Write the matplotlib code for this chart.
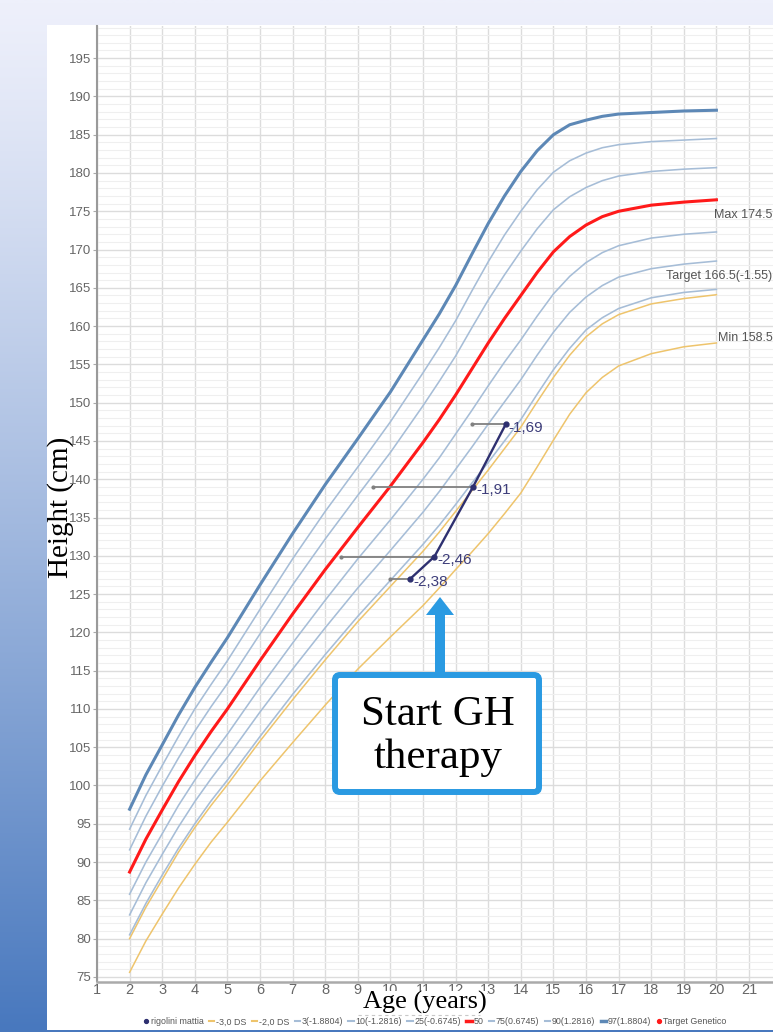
import numpy as np
import matplotlib
matplotlib.use('Agg')
import matplotlib.pyplot as plt
from matplotlib.patches import Rectangle, FancyBboxPatch, Polygon
from matplotlib.lines import Line2D

# ---------------- data ----------------
ages = [2, 2.5, 3, 3.5, 4, 4.5, 5, 6, 7, 8, 9, 10, 11, 11.5, 12, 12.5, 13, 13.5, 14, 14.5, 15, 15.5, 16, 16.5, 17, 18, 19, 20]
p97 = [96.9, 101.4, 105.3, 109.2, 112.8, 116.1, 119.3, 126.2, 132.9, 139.3, 145.3, 151.4, 158.2, 161.6, 165.3, 169.4, 173.4, 177.0, 180.2, 182.9, 185.0, 186.3, 186.9, 187.4, 187.7, 187.9, 188.1, 188.2]
p90 = [94.3, 98.7, 102.6, 106.4, 110.0, 113.2, 116.3, 123.0, 129.6, 135.8, 141.6, 147.5, 153.9, 157.2, 160.7, 164.6, 168.4, 171.9, 175.0, 177.8, 180.1, 181.6, 182.6, 183.3, 183.7, 184.1, 184.3, 184.5]
p75 = [91.6, 96.0, 99.9, 103.6, 107.1, 110.3, 113.3, 119.8, 126.2, 132.2, 137.9, 143.5, 149.6, 152.8, 156.1, 159.8, 163.4, 166.7, 169.8, 172.7, 175.2, 176.9, 178.1, 179.0, 179.6, 180.2, 180.5, 180.7]
p50 = [88.7, 93.0, 96.8, 100.5, 103.9, 107.05, 110.0, 116.3, 122.4, 128.2, 133.7, 139.1, 144.8, 147.8, 151.0, 154.4, 157.8, 161.0, 164.0, 167.0, 169.7, 171.7, 173.2, 174.3, 175.0, 175.8, 176.2, 176.5]
p25 = [85.8, 90.0, 93.7, 97.4, 100.7, 103.8, 106.7, 112.8, 118.6, 124.2, 129.6, 134.7, 140.0, 142.8, 145.9, 149.0, 152.2, 155.3, 158.2, 161.3, 164.2, 166.5, 168.3, 169.6, 170.5, 171.5, 172.0, 172.3]
p10 = [83.1, 87.3, 91.0, 94.6, 97.9, 100.9, 103.7, 109.6, 115.2, 120.6, 125.8, 130.7, 135.7, 138.4, 141.3, 144.2, 147.2, 150.1, 153.0, 156.2, 159.2, 161.8, 163.8, 165.3, 166.4, 167.5, 168.1, 168.5]
p3 = [80.5, 84.6, 88.3, 91.8, 95.0, 98.0, 100.7, 106.4, 111.9, 117.1, 122.1, 126.8, 131.5, 134.0, 136.7, 139.5, 142.2, 145.0, 147.8, 151.1, 154.3, 157.1, 159.5, 161.1, 162.3, 163.7, 164.4, 164.8]
sd_m2 = [80.0, 84.1, 87.7, 91.3, 94.5, 97.4, 100.1, 105.8, 111.2, 116.4, 121.4, 126.0, 130.6, 133.1, 135.8, 138.5, 141.2, 144.0, 146.8, 150.1, 153.3, 156.2, 158.6, 160.3, 161.5, 162.9, 163.6, 164.1]
sd_m3 = [75.6, 79.7, 83.2, 86.6, 89.7, 92.6, 95.2, 100.6, 105.6, 110.5, 115.2, 119.4, 123.5, 125.8, 128.2, 130.5, 132.9, 135.5, 138.2, 141.6, 145.1, 148.5, 151.3, 153.3, 154.8, 156.4, 157.3, 157.8]

patient_age = [10.61, 11.35, 12.54, 13.54]
patient_height = [127.0, 129.9, 139.05, 147.2]
bone_age = [9.99, 8.47, 9.47, 12.49]
sds_labels = ['-2,38', '-2,46', '-1,91', '-1,69']

right_labels = ['Max 174.5', 'Target 166.5(-1.55)', 'Min 158.5']
right_values = [174.5, 166.5, 158.5]

y_ticks = list(range(75, 200, 5))
x_ticks = list(range(1, 22))

legend_labels = ['rigolini mattia', '-3,0 DS', '-2,0 DS', '3(-1.8804)', '10(-1.2816)',
                 '25(-0.6745)', '50', '75(0.6745)', '90(1.2816)', '97(1.8804)', 'Target Genetico']

# ---------------- style ----------------
C_THIN = '#a6bdd7'
C_THICK = '#5d88b6'
C_RED = '#ff1a1a'
C_YEL = '#eec46c'
C_NAVY = '#2e3070'
C_ARROW = '#2a9ae2'
SANS = ['Liberation Sans', 'DejaVu Sans']
SERIF = ['Liberation Serif', 'DejaVu Serif']

W, H = 773, 1032
fig = plt.figure(figsize=(W / 100, H / 100), dpi=100)

# background gradient + white panel
bg = fig.add_axes([0, 0, 1, 1], zorder=0)
bg.set_xlim(0, W); bg.set_ylim(H, 0); bg.axis('off')
top = np.array([238, 240, 251]) / 255.0
bot = np.array([72, 120, 190]) / 255.0
t = (np.linspace(0, 1, 200) ** 1.15)[:, None]
img = (top[None, :] * (1 - t) + bot[None, :] * t)[:, None, :]
bg.imshow(img, extent=(0, W, H, 0), aspect='auto', interpolation='bilinear')
bg.add_patch(Rectangle((47, 25), W - 47, 1005, fc='white', ec='none'))

# main axes
px_per_year = 32.6
ax = fig.add_axes([97 / W, 1 - 981.5 / H, (W - 97) / W, (981.5 - 26) / H], zorder=1)
ax.set_xlim(1, 1 + (W - 97) / px_per_year)
ax.set_ylim(74.4, 199.2)
ax.set_facecolor('white')
ax.set_xticks(x_ticks)
ax.set_yticks(y_ticks)
ax.set_yticks(np.arange(75, 200, 1), minor=True)
ax.grid(which='major', axis='both', color='#dcdcdc', lw=1.0, zorder=0)
ax.grid(which='minor', axis='y', color='#efefef', lw=0.8, zorder=0)
ax.set_axisbelow(True)
for s in ['top', 'right']:
    ax.spines[s].set_visible(False)
ax.spines['left'].set_color('#9a9a9a'); ax.spines['left'].set_linewidth(1.5)
ax.spines['bottom'].set_color('#aaaaaa'); ax.spines['bottom'].set_linewidth(1.8)
ax.tick_params(axis='y', which='major', labelsize=9.5, labelcolor='#666666', color='#aaaaaa', length=3, pad=1)
ax.tick_params(axis='x', which='major', labelsize=10.5, labelcolor='#666666', length=0, pad=1)
ax.tick_params(which='minor', length=0)
for lab in ax.get_xticklabels() + ax.get_yticklabels():
    lab.set_family(SANS)

# reference curves
ax.plot(ages, sd_m3, color=C_YEL, lw=1.1, zorder=2)
ax.plot(ages, sd_m2, color=C_YEL, lw=1.1, zorder=2)
for arr in [p3, p10, p25, p75, p90]:
    ax.plot(ages, arr, color=C_THIN, lw=1.15, zorder=2)
ax.plot(ages, p50, color=C_RED, lw=2.2, zorder=3)
ax.plot(ages, p97, color=C_THICK, lw=2.2, zorder=3)

# bone-age lines
for a, b, h in zip(patient_age, bone_age, patient_height):
    ax.plot([b, a], [h, h], color='#808080', lw=1.3, zorder=4)
    ax.plot([b], [h], marker='o', ms=2, color='#808080', zorder=4)

# patient
ax.plot(patient_age, patient_height, color=C_NAVY, lw=1.7, marker='o', ms=3.5, zorder=5)
for a, h, lab in zip(patient_age, patient_height, sds_labels):
    ax.annotate(lab, (a, h), xytext=(2, -2.5), textcoords='offset points', fontsize=11,
                color='#3d3d7a', va='center', ha='left', family=SANS, zorder=6)

# right labels
for lab, v in zip(right_labels, right_values):
    ax.text(0.999, v, lab, transform=ax.get_yaxis_transform(), ha='right', va='center',
            fontsize=9, color='#555555', family=SANS, clip_on=False)

# overlay
ov = fig.add_axes([0, 0, 1, 1], zorder=2)
ov.set_xlim(0, W); ov.set_ylim(H, 0); ov.axis('off')
ov.patch.set_alpha(0)

ov.add_patch(Polygon([(435, 676), (435, 615), (426, 615), (440, 597), (454, 615), (445, 615), (445, 676)],
                     closed=True, fc=C_ARROW, ec='none'))
ov.add_patch(FancyBboxPatch((335, 675), 204, 117, boxstyle='round,pad=0,rounding_size=5',
                            lw=4.3, ec=C_ARROW, fc='white'))
ov.text(438, 725, 'Start GH', ha='center', va='baseline', fontsize=31, family=SERIF, color='black')
ov.text(438, 768, 'therapy', ha='center', va='baseline', fontsize=31, family=SERIF, color='black')

ov.text(425, 1009, 'Age (years)', ha='center', va='baseline', fontsize=19, family=SERIF, color='black',
        bbox=dict(fc='white', ec='none', pad=0.0))
ov.plot([358, 480], [1015, 1015], ls=(0, (3, 3)), color='#c8c8c8', lw=0.8)
ov.text(61, 507, 'Height (cm)', rotation=90, ha='center', va='center', fontsize=21, family=SERIF, color='black')

# legend
handles = [
    Line2D([], [], marker='o', ls='none', color=C_NAVY, ms=2.8),
    Line2D([], [], color=C_YEL, lw=1.5),
    Line2D([], [], color=C_YEL, lw=1.5),
    Line2D([], [], color=C_THIN, lw=1.5),
    Line2D([], [], color=C_THIN, lw=1.5),
    Line2D([], [], color=C_THIN, lw=1.5),
    Line2D([], [], color=C_RED, lw=2.5),
    Line2D([], [], color=C_THIN, lw=1.5),
    Line2D([], [], color=C_THIN, lw=1.5),
    Line2D([], [], color=C_THICK, lw=2.5),
    Line2D([], [], marker='o', ls='none', color=C_RED, ms=2.8),
]
leg = fig.legend(handles, legend_labels, loc='center', bbox_to_anchor=(0.563, 1 - 1022 / H), ncol=11,
                 frameon=False, handlelength=0.6, handletextpad=0.2, columnspacing=0.6, borderpad=0,
                 prop={'family': SANS, 'size': 6.4})
for txt in leg.get_texts():
    txt.set_color('#555555')
leg.set_zorder(5)

fig.savefig('out.png', dpi=100)
